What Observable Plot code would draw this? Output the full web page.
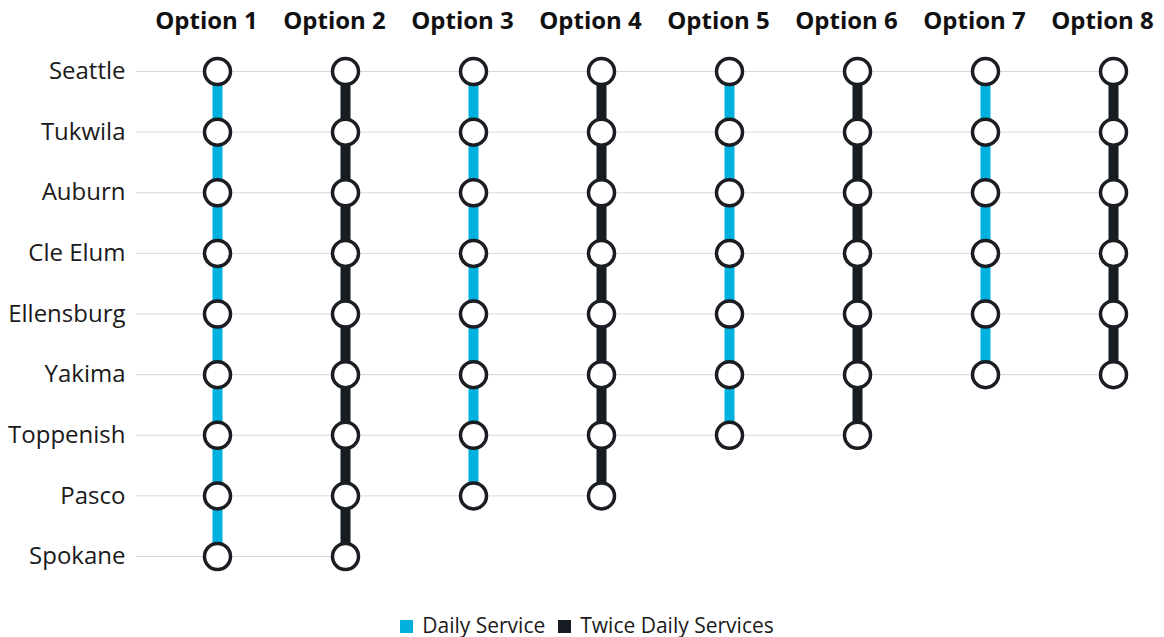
<!DOCTYPE html>
<html><head><meta charset="utf-8">
<script src="https://cdn.jsdelivr.net/npm/d3@7"></script>
<script src="https://cdn.jsdelivr.net/npm/@observablehq/plot@0.6"></script>
<style>
body{margin:0;background:#fff;font-family:"Open Sans",sans-serif;}
#legend{display:flex;justify-content:center;align-items:center;gap:13px;font-size:21px;color:#1a1a1a;height:26px;padding-left:10px;}
#legend span.sw{display:inline-block;width:13px;height:13px;margin-right:9px;vertical-align:0px;}
</style>
</head><body>
<div id="chart"></div>
<div id="legend"></div>
<script>
const cities = ["Seattle","Tukwila","Auburn","Cle Elum","Ellensburg","Yakima","Toppenish","Pasco","Spokane"];
const options = ["Option 1","Option 2","Option 3","Option 4","Option 5","Option 6","Option 7","Option 8"];
const lastStops = ["Spokane","Spokane","Pasco","Pasco","Toppenish","Toppenish","Yakima","Yakima"];
const services = ["Daily Service","Twice Daily Services","Daily Service","Twice Daily Services","Daily Service","Twice Daily Services","Daily Service","Twice Daily Services"];
const serviceLabels = ["Daily Service","Twice Daily Services"];
const serviceColors = ["#00b0df","#171c22"];

const stops = [];
options.forEach((opt, i) => {
  const end = cities.indexOf(lastStops[i]);
  for (let k = 0; k <= end; k++) stops.push({option: opt, city: cities[k], service: services[i]});
});
// each row's grid line runs from the left edge to the last option serving that city
const gridRows = cities.map(city => {
  const served = stops.filter(s => s.city === city).map(s => s.option);
  return {city, firstOption: options[0], lastOption: served[served.length - 1]};
});

const chart = Plot.plot({
  width: 1164,
  height: 612,
  marginLeft: 136,
  marginRight: 44,
  marginTop: 40,
  marginBottom: 20,
  style: {fontFamily: "Open Sans", background: "#fff"},
  x: {type: "point", domain: options, range: [217, 1113], padding: 0, round: false, axis: null},
  y: {type: "point", domain: cities, range: [71, 556], padding: 0, round: false, axis: null},
  color: {domain: serviceLabels, range: serviceColors},
  marks: [
    Plot.ruleY(gridRows, {y: "city", x1: "firstOption", x2: "lastOption", insetLeft: -81, stroke: "#d9d9d9", strokeWidth: 1}),
    Plot.line(stops, {x: "option", y: "city", z: "option", stroke: "service", strokeWidth: 10, strokeLinecap: "butt"}),
    Plot.dot(stops, {x: "option", y: "city", r: 13, fill: "#fff", stroke: "#1a1d22", strokeWidth: 3.5}),
    Plot.axisX({anchor: "top", tickSize: 0, tickPadding: 12, dx: -11, fontSize: 24, fontWeight: "bold", fill: "#111", label: null}),
    Plot.axisY({anchor: "left", tickSize: 0, tickPadding: 11, fontSize: 24, fill: "#1a1a1a", label: null})
  ]
});
document.getElementById("chart").appendChild(chart);

const legend = document.getElementById("legend");
serviceLabels.forEach((lab, i) => {
  const item = document.createElement("div");
  item.innerHTML = `<span class="sw" style="background:${serviceColors[i]}"></span>${lab}`;
  legend.appendChild(item);
});
</script>
</body></html>
